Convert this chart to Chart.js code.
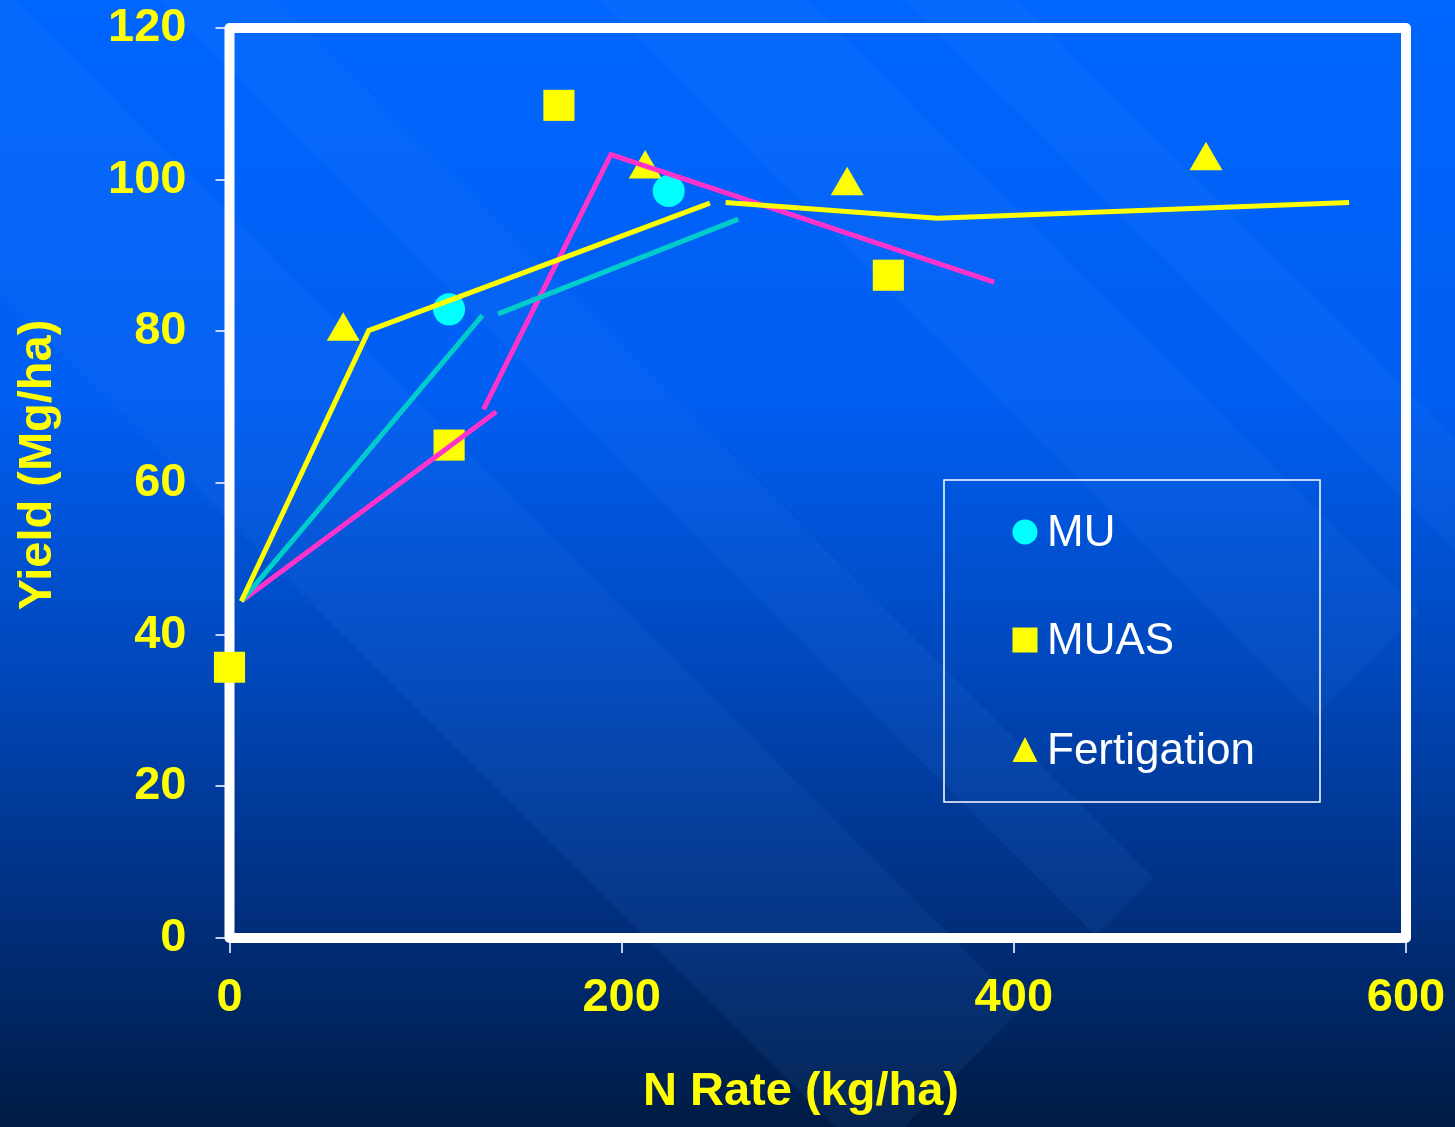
<!DOCTYPE html>
<html>
<head>
<meta charset="utf-8">
<title>Yield vs N Rate</title>
<script src="https://cdn.jsdelivr.net/npm/chart.js@4.4.1/dist/chart.umd.min.js"></script>
<style>
    html, body { margin: 0; padding: 0; background: #001b44; }
    #wrap { width: 1455px; height: 1127px; }
</style>
</head>
<body>
<div id="wrap"><canvas id="yieldChart"></canvas></div>
<script>
// observed yields (Mg/ha) at each N rate (kg/ha)
const muRate = [112, 224];
const muYield = [82.9, 98.5];
const muasRate = [0, 112, 168, 336];
const muasYield = [35.7, 65.0, 109.8, 87.4];
const fertRate = [58, 212, 315, 498];
const fertYield = [80.0, 101.4, 99.2, 102.5];

// fitted response segments, [rate, yield]
const fertFitA = [[6, 44.4], [71, 80.1], [245, 96.9]];
const fertFitB = [[253, 97.0], [361, 94.9], [571, 97.0]];
const muFitA = [[6, 44.4], [129, 82.1]];
const muFitB = [[137, 82.3], [259.5, 94.8]];
const muasFitA = [[6, 44.4], [136, 69.4]];
const muasFitB = [[129.5, 69.7], [194.5, 103.3], [390, 86.5]];

const xMax = 600, xStep = 200;
const yMax = 120, yStep = 20;
const xTitle = "N Rate (kg/ha)";
const yTitle = "Yield (Mg/ha)";

const YELLOW = "#ffff00";
const CYAN = "#00ffff";
const TEAL = "#00cccc";
const MAGENTA = "#ff33cc";
const FONT = "'Liberation Sans', Arial, sans-serif";

function toPoints(xs, ys) {
    return xs.map((x, i) => ({ x: x, y: ys[i] }));
}

function fitLine(pts, color) {
    return {
        data: pts.map(p => ({ x: p[0], y: p[1] })),
        showLine: true,
        borderColor: color,
        borderWidth: 5,
        borderCapStyle: "butt",
        pointRadius: 0,
        pointHoverRadius: 0,
        order: 0,
        clip: false,
        isFit: true
    };
}

// diagonal light bands of the slide background, as x - y ranges
const bands = [[-292, 15], [160, 276], [599, 807], [905, 1018]];
const bandEnd = 2031;

const backdrop = {
    id: "backdrop",
    beforeDraw(chart) {
        const { ctx, width, height } = chart;
        ctx.save();
        const g = ctx.createLinearGradient(0, 0, 0, height);
        g.addColorStop(0, "#0066ff");
        g.addColorStop(0.35, "#005ef2");
        g.addColorStop(0.6, "#0047ba");
        g.addColorStop(0.8, "#003080");
        g.addColorStop(1, "#001b44");
        ctx.fillStyle = g;
        ctx.fillRect(0, 0, width, height);

        ctx.fillStyle = "rgba(80,150,255,0.08)";
        bands.forEach(([d1, d2]) => {
            ctx.beginPath();
            ctx.moveTo(-2000, -2000 - d1);
            ctx.lineTo((bandEnd + d1) / 2, (bandEnd - d1) / 2);
            ctx.lineTo((bandEnd + d2) / 2, (bandEnd - d2) / 2);
            ctx.lineTo(-2000, -2000 - d2);
            ctx.closePath();
            ctx.fill();
        });
        ctx.restore();
    },
    beforeDatasetsDraw(chart) {
        const { ctx, chartArea: a } = chart;
        ctx.save();
        ctx.strokeStyle = "#ffffff";
        ctx.lineWidth = 10;
        ctx.lineJoin = "round";
        ctx.strokeRect(a.left, a.top, a.right - a.left, a.bottom - a.top);
        ctx.restore();
    },
    afterDraw(chart) {
        const ctx = chart.ctx;
        ctx.save();

        // axis titles
        ctx.fillStyle = YELLOW;
        ctx.font = "bold 47px " + FONT;
        ctx.textAlign = "center";
        ctx.textBaseline = "middle";
        ctx.fillText(xTitle, 801, 1092);
        ctx.save();
        ctx.translate(38, 465);
        ctx.rotate(-Math.PI / 2);
        ctx.fillText(yTitle, 0, 0);
        ctx.restore();

        // legend box
        ctx.textAlign = "left";
        ctx.strokeStyle = "#ffffff";
        ctx.lineWidth = 1.5;
        ctx.strokeRect(944, 480, 376, 322);

        const rows = [532, 640, 750];
        const items = chart.data.datasets.filter(d => !d.isFit);
        items.forEach((d, i) => {
            const cx = 1025, cy = rows[i];
            ctx.fillStyle = d.backgroundColor;
            ctx.beginPath();
            if (d.pointStyle === "circle") {
                ctx.arc(cx, cy, 12.5, 0, Math.PI * 2);
            } else if (d.pointStyle === "rect") {
                ctx.rect(cx - 12.5, cy - 12.5, 25, 25);
            } else {
                ctx.moveTo(cx, cy - 13);
                ctx.lineTo(cx + 12.5, cy + 12);
                ctx.lineTo(cx - 12.5, cy + 12);
                ctx.closePath();
            }
            ctx.fill();

            ctx.fillStyle = "#ffffff";
            ctx.font = "44px " + FONT;
            ctx.fillText(d.label, 1047, cy + 2);
        });
        ctx.restore();
    }
};

const tickFont = { family: FONT, size: 47, weight: "bold" };

new Chart(document.getElementById("yieldChart"), {
    type: "scatter",
    data: {
        datasets: [
            {
                label: "MU",
                data: toPoints(muRate, muYield),
                pointStyle: "circle",
                pointRadius: 16,
                pointHoverRadius: 16,
                backgroundColor: CYAN,
                borderColor: CYAN,
                pointBorderWidth: 0,
                order: 1,
                clip: false
            },
            {
                label: "MUAS",
                data: toPoints(muasRate, muasYield),
                pointStyle: "rect",
                pointRadius: 22,
                pointHoverRadius: 22,
                backgroundColor: YELLOW,
                borderColor: YELLOW,
                pointBorderWidth: 0,
                order: 1,
                clip: false
            },
            {
                label: "Fertigation",
                data: toPoints(fertRate, fertYield),
                pointStyle: "triangle",
                pointRadius: 19,
                pointHoverRadius: 19,
                backgroundColor: YELLOW,
                borderColor: YELLOW,
                pointBorderWidth: 0,
                order: 1,
                clip: false
            },
            fitLine(fertFitA, YELLOW),
            fitLine(fertFitB, YELLOW),
            fitLine(muFitA, TEAL),
            fitLine(muFitB, TEAL),
            fitLine(muasFitA, MAGENTA),
            fitLine(muasFitB, MAGENTA)
        ]
    },
    options: {
        responsive: true,
        maintainAspectRatio: false,
        animation: false,
        layout: { padding: { top: 28, right: 49, bottom: 0, left: 0 } },
        plugins: {
            legend: { display: false },
            tooltip: { enabled: false }
        },
        scales: {
            x: {
                type: "linear",
                min: 0,
                max: xMax,
                ticks: { stepSize: xStep, color: YELLOW, font: tickFont, padding: 17, maxRotation: 0 },
                grid: { drawOnChartArea: false, tickLength: 15, color: "rgba(230,235,255,0.85)", lineWidth: 2 },
                border: { display: false },
                afterFit(scale) {
                    scale.height = 189;
                    scale.paddingLeft = 0;
                    scale.paddingRight = 0;
                }
            },
            y: {
                type: "linear",
                min: 0,
                max: yMax,
                ticks: { stepSize: yStep, color: YELLOW, font: tickFont, padding: 29 },
                grid: { drawOnChartArea: false, tickLength: 14, color: "rgba(230,235,255,0.85)", lineWidth: 2 },
                border: { display: false },
                afterFit(scale) {
                    scale.width = 229.5;
                    scale.paddingTop = 0;
                    scale.paddingBottom = 0;
                }
            }
        }
    },
    plugins: [backdrop]
});
</script>
</body>
</html>
